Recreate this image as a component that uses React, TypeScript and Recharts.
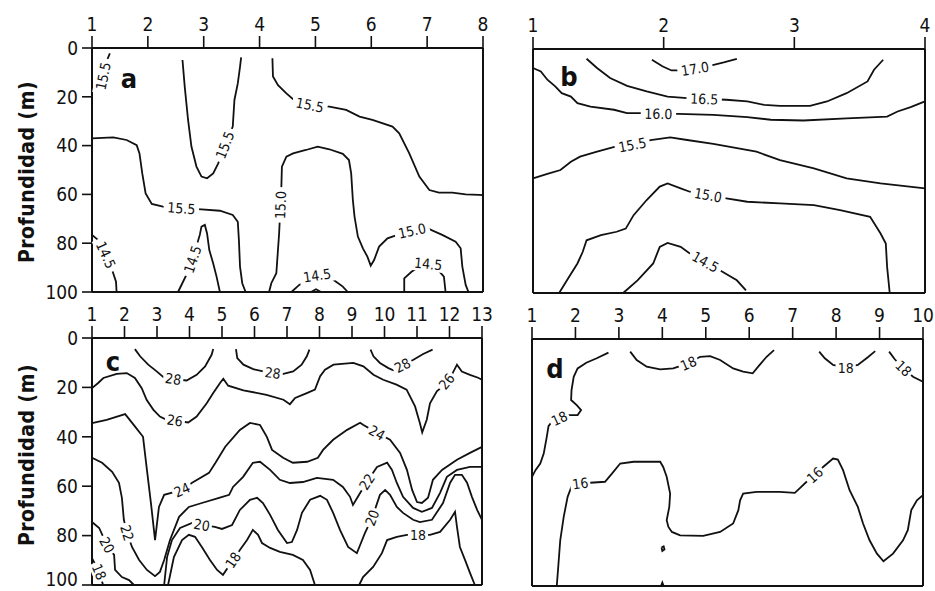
import React from "react";
import { ComposedChart, Line, Scatter, XAxis, YAxis, ReferenceLine } from "recharts";

type Pt = { x: number; y: number; label?: string };

const FONT = "'DejaVu Sans Condensed', 'DejaVu Sans', sans-serif";
const depthTicks = [0, 20, 40, 60, 80, 100];
const PAGE_H = 591;

// ---- panel a
const aStations = [1, 2, 3, 4, 5, 6, 7, 8];
const a155NW: Pt[] = [
  { x: 1.32, y: 2.2 }, { x: 1.26, y: 5.5 }, { x: 1.2, y: 11.5, label: "15.5" }, { x: 1.15, y: 17.5 }
];
const a155Tongue: Pt[] = [
  { x: 2.62, y: 4.9 }, { x: 2.66, y: 15.8 }, { x: 2.72, y: 29.5 }, { x: 2.78, y: 40.4 }, { x: 2.87, y: 48.6 },
  { x: 2.96, y: 52.7 }, { x: 3.06, y: 53.4 }, { x: 3.17, y: 51.4 }, { x: 3.26, y: 47.3 },
  { x: 3.38, y: 39.8, label: "15.5" }, { x: 3.52, y: 32.2 }, { x: 3.55, y: 21.3 }, { x: 3.61, y: 14.5 },
  { x: 3.65, y: 7.7 }, { x: 3.67, y: 3.8 }
];
const a155East: Pt[] = [
  { x: 4.23, y: 4.2 }, { x: 4.24, y: 11.7 }, { x: 4.33, y: 15.2 }, { x: 4.48, y: 18.6 }, { x: 4.6, y: 21.0 },
  { x: 4.9, y: 23.4, label: "15.5" }, { x: 5.25, y: 24.0 }, { x: 5.55, y: 25.4 }, { x: 5.79, y: 28.1 },
  { x: 6.02, y: 29.5 }, { x: 6.38, y: 32.2 }, { x: 6.5, y: 35.0 }, { x: 6.68, y: 43.2 }, { x: 6.86, y: 52.7 },
  { x: 7.04, y: 58.2 }, { x: 7.21, y: 59.3 }, { x: 7.45, y: 59.3 }, { x: 7.69, y: 60.0 }, { x: 7.93, y: 60.2 },
  { x: 8, y: 60.3 }
];
const a155West: Pt[] = [
  { x: 1, y: 37.0 }, { x: 1.38, y: 36.6 }, { x: 1.62, y: 37.7 }, { x: 1.8, y: 39.8 }, { x: 1.85, y: 43.2 },
  { x: 1.9, y: 51.4 }, { x: 1.96, y: 59.6 }, { x: 2.07, y: 63.9 }, { x: 2.27, y: 65.0 },
  { x: 2.6, y: 65.7, label: "15.5" }, { x: 2.96, y: 66.1 }, { x: 3.29, y: 66.7 }, { x: 3.52, y: 68.4 },
  { x: 3.61, y: 71.2 }, { x: 3.63, y: 78.7 }, { x: 3.65, y: 89.6 }, { x: 3.69, y: 96.4 }, { x: 3.75, y: 100 }
];
const a150: Pt[] = [
  { x: 4.17, y: 100 }, { x: 4.21, y: 96.4 }, { x: 4.3, y: 92.3 }, { x: 4.35, y: 76.0 },
  { x: 4.375, y: 64.3, label: "15.0" }, { x: 4.39, y: 56.8 }, { x: 4.4, y: 48.6 }, { x: 4.48, y: 44.5 },
  { x: 4.6, y: 43.2 }, { x: 4.83, y: 41.8 }, { x: 5.04, y: 40.4 }, { x: 5.25, y: 41.5 }, { x: 5.49, y: 43.4 },
  { x: 5.6, y: 45.9 }, { x: 5.64, y: 51.4 }, { x: 5.67, y: 62.3 }, { x: 5.7, y: 69.1 }, { x: 5.76, y: 77.3 },
  { x: 5.85, y: 82.1 }, { x: 5.93, y: 85.5 }, { x: 5.99, y: 89.2 }, { x: 6.05, y: 86.9 }, { x: 6.14, y: 81.4 },
  { x: 6.29, y: 78.0 }, { x: 6.47, y: 76.6 }, { x: 6.73, y: 74.9, label: "15.0" }, { x: 7.01, y: 73.9 },
  { x: 7.27, y: 76.6 }, { x: 7.51, y: 79.4 }, { x: 7.6, y: 82.1 }, { x: 7.63, y: 89.6 }, { x: 7.69, y: 97.1 },
  { x: 7.74, y: 100 }
];
const a145West: Pt[] = [
  { x: 1, y: 76.6 }, { x: 1.11, y: 78.7 }, { x: 1.25, y: 84.8, label: "14.5" }, { x: 1.38, y: 92.3 },
  { x: 1.43, y: 95.8 }, { x: 1.44, y: 100 }
];
const a145Mid: Pt[] = [
  { x: 2.54, y: 100 }, { x: 2.63, y: 95.8 }, { x: 2.69, y: 93.0 }, { x: 2.8, y: 86.6, label: "14.5" },
  { x: 2.93, y: 76.6 }, { x: 2.96, y: 73.2 }, { x: 3.02, y: 72.5 }, { x: 3.06, y: 76.0 }, { x: 3.1, y: 82.8 },
  { x: 3.17, y: 88.3 }, { x: 3.23, y: 93.7 }, { x: 3.29, y: 100 }
];
const a145Centre: Pt[] = [
  { x: 4.57, y: 100 }, { x: 4.71, y: 97.1 }, { x: 4.92, y: 94.4 }, { x: 5.03, y: 93.2, label: "14.5" },
  { x: 5.22, y: 93.4 }, { x: 5.37, y: 95.8 }, { x: 5.49, y: 97.8 }, { x: 5.58, y: 100 }
];
const a145East: Pt[] = [
  { x: 6.59, y: 100 }, { x: 6.59, y: 94.4 }, { x: 6.72, y: 91.7 }, { x: 6.86, y: 89.6 },
  { x: 7.02, y: 88.5, label: "14.5" }, { x: 7.17, y: 90.3 }, { x: 7.3, y: 93.7 }, { x: 7.33, y: 100 }
];
const a145Blob: Pt[] = [{ x: 4.92, y: 100 }, { x: 5.01, y: 98.9 }, { x: 5.1, y: 100 }];

// ---- panel b
const bStations = [1, 2, 3, 4];
const b170: Pt[] = [
  { x: 1.91, y: 4.4 }, { x: 1.99, y: 7.1 }, { x: 2.06, y: 8.8 }, { x: 2.13, y: 8.8 },
  { x: 2.24, y: 8.1, label: "17.0" }, { x: 2.36, y: 6.8 }, { x: 2.46, y: 5.5 }, { x: 2.56, y: 4.0 }
];
const b165: Pt[] = [
  { x: 1.41, y: 4.0 }, { x: 1.49, y: 7.8 }, { x: 1.59, y: 11.9 }, { x: 1.72, y: 15.1 }, { x: 1.87, y: 17.4 },
  { x: 2.03, y: 19.5 }, { x: 2.18, y: 20.1 }, { x: 2.31, y: 20.5, label: "16.5" }, { x: 2.48, y: 20.8 },
  { x: 2.64, y: 21.5 }, { x: 2.77, y: 22.9 }, { x: 2.89, y: 23.3 }, { x: 3.12, y: 23.3 }, { x: 3.25, y: 21.5 },
  { x: 3.4, y: 18.1 }, { x: 3.56, y: 13.3 }, { x: 3.61, y: 8.5 }, { x: 3.68, y: 4.4 }
];
const b160: Pt[] = [
  { x: 1, y: 7.8 }, { x: 1.06, y: 9.2 }, { x: 1.11, y: 12.6 }, { x: 1.17, y: 15.3 }, { x: 1.22, y: 18.1 },
  { x: 1.29, y: 19.5 }, { x: 1.34, y: 22.2 }, { x: 1.44, y: 23.6 }, { x: 1.62, y: 24.9 }, { x: 1.72, y: 26.3 },
  { x: 1.83, y: 26.3 }, { x: 1.96, y: 26.6, label: "16.0" }, { x: 2.11, y: 26.6 }, { x: 2.38, y: 27.0 },
  { x: 2.64, y: 27.9 }, { x: 2.82, y: 29.0 }, { x: 3.07, y: 29.3 }, { x: 3.4, y: 28.4 }, { x: 3.71, y: 27.7 },
  { x: 3.79, y: 25.6 }, { x: 3.89, y: 23.8 }, { x: 4, y: 21.5 }
];
const b155: Pt[] = [
  { x: 1, y: 53.0 }, { x: 1.11, y: 51.2 }, { x: 1.21, y: 49.6 }, { x: 1.29, y: 46.2 }, { x: 1.36, y: 44.1 },
  { x: 1.49, y: 42.1 }, { x: 1.63, y: 40.0 }, { x: 1.76, y: 39.3, label: "15.5" }, { x: 1.9, y: 37.3 },
  { x: 2.05, y: 36.2 }, { x: 2.18, y: 37.3 }, { x: 2.38, y: 38.9 }, { x: 2.71, y: 42.1 }, { x: 2.89, y: 45.5 },
  { x: 3.15, y: 48.9 }, { x: 3.4, y: 53.0 }, { x: 3.66, y: 55.1 }, { x: 4, y: 57.1 }
];
const b150: Pt[] = [
  { x: 1.2, y: 100 }, { x: 1.26, y: 94.8 }, { x: 1.34, y: 87.9 }, { x: 1.38, y: 83.2 }, { x: 1.41, y: 78.4 },
  { x: 1.52, y: 76.3 }, { x: 1.64, y: 74.9 }, { x: 1.71, y: 73.6 }, { x: 1.77, y: 68.1 }, { x: 1.87, y: 61.9 },
  { x: 1.97, y: 56.4 }, { x: 2.03, y: 55.1 }, { x: 2.13, y: 57.1 }, { x: 2.2, y: 58.5 },
  { x: 2.34, y: 59.9, label: "15.0" }, { x: 2.48, y: 61.2 }, { x: 2.64, y: 62.6 }, { x: 2.89, y: 63.3 },
  { x: 3.15, y: 64.0 }, { x: 3.35, y: 66.0 }, { x: 3.58, y: 68.8 }, { x: 3.66, y: 75.6 }, { x: 3.7, y: 79.7 },
  { x: 3.71, y: 89.3 }, { x: 3.73, y: 100 }
];
const b145: Pt[] = [
  { x: 1.69, y: 100 }, { x: 1.8, y: 94.8 }, { x: 1.92, y: 87.9 }, { x: 1.97, y: 81.1 }, { x: 2.03, y: 79.5 },
  { x: 2.13, y: 81.1 }, { x: 2.2, y: 83.8 }, { x: 2.32, y: 87.3, label: "14.5" }, { x: 2.43, y: 90.7 },
  { x: 2.56, y: 94.8 }, { x: 2.63, y: 98.9 }
];

// ---- panel c
const cStations = [1, 2, 3, 4, 5, 6, 7, 8, 9, 10, 11, 12, 13];
const c28West: Pt[] = [
  { x: 2.32, y: 4.5 }, { x: 2.48, y: 7.4 }, { x: 2.73, y: 10.8 }, { x: 2.99, y: 13.5 }, { x: 3.19, y: 15.8 },
  { x: 3.5, y: 16.6, label: "28" }, { x: 3.91, y: 17.2 }, { x: 4.22, y: 14.9 }, { x: 4.48, y: 11.5 },
  { x: 4.68, y: 6.8 }, { x: 4.73, y: 4.5 }
];
const c28Mid: Pt[] = [
  { x: 5.43, y: 4.5 }, { x: 5.47, y: 8.1 }, { x: 5.66, y: 10.8 }, { x: 5.96, y: 12.6 }, { x: 6.27, y: 13.5 },
  { x: 6.56, y: 14.2, label: "28" }, { x: 6.89, y: 14.5 }, { x: 7.19, y: 13.5 }, { x: 7.45, y: 10.8 },
  { x: 7.61, y: 7.4 }, { x: 7.69, y: 4.7 }
];
const c28East: Pt[] = [
  { x: 9.57, y: 4.7 }, { x: 9.66, y: 7.4 }, { x: 9.86, y: 10.1 }, { x: 10.12, y: 12.2 }, { x: 10.27, y: 13.1 },
  { x: 10.55, y: 11.1, label: "28" }, { x: 10.89, y: 8.8 }, { x: 11.19, y: 6.5 }, { x: 11.48, y: 4.7 }
];
const c26: Pt[] = [
  { x: 1, y: 20.3 }, { x: 1.19, y: 18.2 }, { x: 1.35, y: 16.2 }, { x: 1.76, y: 14.5 }, { x: 2.07, y: 14.2 },
  { x: 2.32, y: 16.2 }, { x: 2.53, y: 20.3 }, { x: 2.68, y: 25.0 }, { x: 2.89, y: 29.1 }, { x: 3.09, y: 31.8 },
  { x: 3.25, y: 32.8 }, { x: 3.55, y: 33.4, label: "26" }, { x: 3.96, y: 34.2 }, { x: 4.22, y: 31.8 },
  { x: 4.53, y: 26.4 }, { x: 4.73, y: 22.3 }, { x: 4.94, y: 18.2 }, { x: 5.04, y: 16.5 }, { x: 5.19, y: 19.3 },
  { x: 5.66, y: 21.2 }, { x: 6.37, y: 23.0 }, { x: 6.89, y: 25.0 }, { x: 7.09, y: 26.8 }, { x: 7.25, y: 24.3 },
  { x: 7.61, y: 22.3 }, { x: 7.86, y: 20.9 }, { x: 8.02, y: 15.5 }, { x: 8.17, y: 12.8 }, { x: 8.43, y: 10.8 },
  { x: 9.04, y: 10.1 }, { x: 9.35, y: 11.5 }, { x: 9.66, y: 14.9 }, { x: 9.96, y: 16.9 }, { x: 10.37, y: 18.9 },
  { x: 10.68, y: 20.9 }, { x: 10.94, y: 27.7 }, { x: 11.09, y: 34.5 }, { x: 11.16, y: 38.2 }, { x: 11.3, y: 33.1 },
  { x: 11.4, y: 26.4 }, { x: 11.61, y: 21.6 }, { x: 11.76, y: 19.9 }, { x: 11.91, y: 17.6, label: "26" },
  { x: 12.07, y: 14.9 }, { x: 12.23, y: 10.8 }, { x: 12.38, y: 13.6 }, { x: 12.63, y: 14.9 },
  { x: 12.88, y: 16.1 }, { x: 13, y: 16.9 }
];
const c24: Pt[] = [
  { x: 1, y: 34.5 }, { x: 1.45, y: 33.1 }, { x: 2.02, y: 30.8 }, { x: 2.32, y: 35.8 }, { x: 2.57, y: 40.0 },
  { x: 2.69, y: 53.4 }, { x: 2.82, y: 67.6 }, { x: 2.94, y: 81.8 }, { x: 3.06, y: 68.4 }, { x: 3.22, y: 63.5 },
  { x: 3.77, y: 61.5, label: "24" }, { x: 4.08, y: 58.6 }, { x: 4.6, y: 54.6 }, { x: 4.8, y: 50.5 },
  { x: 5.1, y: 44.0 }, { x: 5.55, y: 37.2 }, { x: 5.86, y: 34.4 }, { x: 6.17, y: 35.2 }, { x: 6.38, y: 40.0 },
  { x: 6.54, y: 45.3 }, { x: 6.88, y: 48.5 }, { x: 7.18, y: 50.5 }, { x: 7.62, y: 50.1 }, { x: 7.95, y: 48.5 },
  { x: 8.11, y: 45.3 }, { x: 8.42, y: 41.2 }, { x: 8.85, y: 37.2 }, { x: 9.25, y: 34.3 }, { x: 9.34, y: 35.1 },
  { x: 9.77, y: 38.4, label: "24" }, { x: 10.17, y: 41.2 }, { x: 10.48, y: 46.5 }, { x: 10.69, y: 53.4 },
  { x: 10.85, y: 61.5 }, { x: 11.0, y: 66.4 }, { x: 11.15, y: 66.8 }, { x: 11.34, y: 64.7 }, { x: 11.49, y: 57.4 },
  { x: 11.77, y: 53.4 }, { x: 12.23, y: 49.3 }, { x: 12.63, y: 46.5 }, { x: 13, y: 44.1 }
];
const c22: Pt[] = [
  { x: 1, y: 48.5 }, { x: 1.31, y: 50.5 }, { x: 1.62, y: 54.2 }, { x: 1.83, y: 58.6 }, { x: 1.92, y: 64.7 },
  { x: 1.98, y: 73.6 }, { x: 2.08, y: 78.9, label: "22" }, { x: 2.23, y: 84.6 }, { x: 2.45, y: 89.9 },
  { x: 2.69, y: 93.9 }, { x: 2.94, y: 96.4 }, { x: 3.09, y: 94.7 }, { x: 3.22, y: 89.9 }, { x: 3.4, y: 81.8 },
  { x: 3.68, y: 72.4 }, { x: 3.98, y: 68.4 }, { x: 4.38, y: 66.8 }, { x: 4.91, y: 64.7 }, { x: 5.22, y: 63.5 },
  { x: 5.34, y: 60.3 }, { x: 5.65, y: 56.2 }, { x: 5.95, y: 50.5 }, { x: 6.17, y: 50.1 }, { x: 6.48, y: 53.4 },
  { x: 6.78, y: 57.4 }, { x: 7.09, y: 58.7 }, { x: 7.49, y: 58.3 }, { x: 7.92, y: 56.6 }, { x: 8.42, y: 57.4 },
  { x: 8.72, y: 60.3 }, { x: 8.94, y: 64.3 }, { x: 9.03, y: 67.6 }, { x: 9.18, y: 64.3 },
  { x: 9.46, y: 58.2, label: "22" }, { x: 9.77, y: 52.2 }, { x: 10.08, y: 50.5 }, { x: 10.23, y: 53.4 },
  { x: 10.38, y: 58.7 }, { x: 10.57, y: 64.3 }, { x: 10.88, y: 68.8 }, { x: 11.15, y: 70.4 }, { x: 11.46, y: 68.8 },
  { x: 11.71, y: 62.7 }, { x: 11.92, y: 56.2 }, { x: 12.23, y: 53.4 }, { x: 12.63, y: 52.2 }, { x: 13, y: 52.2 }
];
const c20West: Pt[] = [
  { x: 1, y: 74.5 }, { x: 1.22, y: 76.9 }, { x: 1.46, y: 83.8, label: "20" }, { x: 1.68, y: 87.8 },
  { x: 1.71, y: 93.9 }, { x: 1.92, y: 96.8 }, { x: 2.14, y: 98.0 }, { x: 2.29, y: 100 }
];
const c20: Pt[] = [
  { x: 3.22, y: 100 }, { x: 3.31, y: 88.7 }, { x: 3.46, y: 81.8 }, { x: 3.71, y: 76.9 }, { x: 4.08, y: 74.9 },
  { x: 4.38, y: 75.7, label: "20" }, { x: 4.78, y: 76.5 }, { x: 5.0, y: 77.3 }, { x: 5.31, y: 75.7 },
  { x: 5.55, y: 69.6 }, { x: 5.86, y: 65.5 }, { x: 6.08, y: 64.7 }, { x: 6.26, y: 66.8 }, { x: 6.48, y: 71.6 },
  { x: 6.72, y: 77.7 }, { x: 7.0, y: 83.0 }, { x: 7.15, y: 82.6 }, { x: 7.31, y: 77.7 }, { x: 7.46, y: 70.8 },
  { x: 7.71, y: 65.5 }, { x: 8.02, y: 63.9 }, { x: 8.23, y: 65.5 }, { x: 8.42, y: 70.8 }, { x: 8.63, y: 77.7 },
  { x: 8.88, y: 84.6 }, { x: 9.15, y: 87.1 }, { x: 9.25, y: 83.8 }, { x: 9.4, y: 78.9 },
  { x: 9.62, y: 72.8, label: "20" }, { x: 9.86, y: 63.5 }, { x: 10.02, y: 61.5 }, { x: 10.17, y: 63.5 },
  { x: 10.38, y: 68.4 }, { x: 10.57, y: 70.8 }, { x: 10.88, y: 73.6 }, { x: 11.09, y: 74.5 }, { x: 11.46, y: 73.6 },
  { x: 11.8, y: 66.8 }, { x: 12.02, y: 58.6 }, { x: 12.17, y: 55.4 }, { x: 12.38, y: 55.4 }, { x: 12.54, y: 58.6 },
  { x: 12.69, y: 64.3 }, { x: 12.85, y: 69.6 }, { x: 13, y: 73.6 }
];
const c18West: Pt[] = [{ x: 1, y: 89.1 }, { x: 1.22, y: 94.7, label: "18" }, { x: 1.34, y: 100 }];
const c18: Pt[] = [
  { x: 3.34, y: 100 }, { x: 3.52, y: 88.7 }, { x: 3.77, y: 81.8 }, { x: 3.98, y: 79.7 }, { x: 4.17, y: 80.5 },
  { x: 4.38, y: 84.6 }, { x: 4.63, y: 89.9 }, { x: 4.85, y: 93.9 }, { x: 5.03, y: 95.9 },
  { x: 5.34, y: 89.9, label: "18" }, { x: 5.55, y: 85.8 }, { x: 5.77, y: 81.8 }, { x: 5.95, y: 77.7 },
  { x: 6.11, y: 79.7 }, { x: 6.23, y: 83.0 }, { x: 6.48, y: 85.0 }, { x: 6.78, y: 86.6 }, { x: 7.18, y: 87.8 },
  { x: 7.49, y: 89.9 }, { x: 7.71, y: 93.9 }, { x: 7.86, y: 100 }
];
const c18East: Pt[] = [
  { x: 9.22, y: 100 }, { x: 9.34, y: 96.8 }, { x: 9.65, y: 92.7 }, { x: 9.92, y: 87.1 }, { x: 10.08, y: 81.8 },
  { x: 10.38, y: 80.5 }, { x: 10.69, y: 79.7 }, { x: 11.03, y: 79.7, label: "18" }, { x: 11.4, y: 79.7 },
  { x: 11.71, y: 78.5 }, { x: 12.02, y: 73.6 }, { x: 12.17, y: 70.4 }, { x: 12.23, y: 76.5 }, { x: 12.32, y: 84.6 },
  { x: 12.48, y: 89.9 }, { x: 12.63, y: 95.1 }, { x: 12.78, y: 100 }
];

// ---- panel d
const dStations = [1, 2, 3, 4, 5, 6, 7, 8, 9, 10];
const d18West: Pt[] = [
  { x: 1, y: 55.8 }, { x: 1.08, y: 53.1 }, { x: 1.19, y: 50.4 }, { x: 1.27, y: 46.4 }, { x: 1.34, y: 39.6 },
  { x: 1.38, y: 35.3 }, { x: 1.44, y: 33.9 }, { x: 1.63, y: 32.2, label: "18" }, { x: 1.82, y: 30.8 },
  { x: 2.05, y: 30.8 }, { x: 2.13, y: 28.8 }, { x: 2.03, y: 26.8 }, { x: 1.9, y: 24.7 }, { x: 1.91, y: 20.7 },
  { x: 1.96, y: 15.3 }, { x: 2.05, y: 11.9 }, { x: 2.25, y: 9.6 }, { x: 2.49, y: 7.8 }, { x: 2.76, y: 5.5 }
];
const d18Mid: Pt[] = [
  { x: 3.26, y: 5.1 }, { x: 3.41, y: 8.5 }, { x: 3.64, y: 11.2 }, { x: 3.95, y: 12.3 }, { x: 4.25, y: 11.9 },
  { x: 4.6, y: 9.9, label: "18" }, { x: 4.87, y: 7.2 }, { x: 5.1, y: 6.9 }, { x: 5.33, y: 8.5 }, { x: 5.63, y: 11.9 },
  { x: 5.86, y: 13.2 }, { x: 6.08, y: 13.9 }, { x: 6.24, y: 10.5 }, { x: 6.4, y: 7.2 }, { x: 6.57, y: 4.5 }
];
const d18East: Pt[] = [
  { x: 7.61, y: 5.1 }, { x: 7.74, y: 7.8 }, { x: 7.93, y: 10.5 }, { x: 8.22, y: 11.6, label: "18" },
  { x: 8.5, y: 10.5 }, { x: 8.73, y: 7.4 }, { x: 8.9, y: 4.9 }
];
const d18Edge: Pt[] = [
  { x: 9.22, y: 5.1 }, { x: 9.35, y: 8.2 }, { x: 9.55, y: 11.9, label: "18" }, { x: 9.77, y: 15.3 }, { x: 10, y: 17.3 }
];
const d16: Pt[] = [
  { x: 1.57, y: 100 }, { x: 1.61, y: 90.9 }, { x: 1.65, y: 81.5 }, { x: 1.73, y: 72.0 }, { x: 1.82, y: 63.9 },
  { x: 1.92, y: 59.2 }, { x: 2.11, y: 58.5, label: "16" }, { x: 2.34, y: 58.2 }, { x: 2.68, y: 57.8 },
  { x: 2.84, y: 54.5 }, { x: 3.03, y: 50.4 }, { x: 3.34, y: 49.7 }, { x: 3.64, y: 49.7 }, { x: 3.95, y: 49.7 },
  { x: 4.02, y: 51.8 }, { x: 4.1, y: 55.8 }, { x: 4.18, y: 62.6 }, { x: 4.16, y: 68.0 }, { x: 4.1, y: 73.4 },
  { x: 4.14, y: 76.1 }, { x: 4.22, y: 78.1 }, { x: 4.41, y: 79.5 }, { x: 4.94, y: 79.7 }, { x: 5.33, y: 78.1 },
  { x: 5.63, y: 74.7 }, { x: 5.75, y: 69.3 }, { x: 5.79, y: 65.3 }, { x: 5.86, y: 62.6 }, { x: 6.17, y: 61.9 },
  { x: 6.7, y: 61.9 }, { x: 7.05, y: 62.3 }, { x: 7.16, y: 60.5 }, { x: 7.32, y: 57.8 },
  { x: 7.51, y: 55.1, label: "16" }, { x: 7.7, y: 51.8 }, { x: 7.93, y: 48.4 }, { x: 8.04, y: 48.8 },
  { x: 8.16, y: 53.1 }, { x: 8.31, y: 61.2 }, { x: 8.5, y: 68.0 }, { x: 8.62, y: 74.7 }, { x: 8.77, y: 81.5 },
  { x: 8.94, y: 86.9 }, { x: 9.09, y: 90.0 }, { x: 9.31, y: 86.9 }, { x: 9.54, y: 81.5 }, { x: 9.65, y: 77.4 },
  { x: 9.73, y: 69.3 }, { x: 9.86, y: 65.3 }, { x: 10, y: 63.2 }
];
const d16Speck: Pt[] = [
  { x: 3.98, y: 84.4 }, { x: 4.03, y: 83.9 }, { x: 4.05, y: 85.2 }, { x: 4.0, y: 85.8 }, { x: 3.98, y: 84.4 }
];
const d16Tip: Pt[] = [{ x: 3.97, y: 100 }, { x: 4.0, y: 98.6 }, { x: 4.03, y: 100 }];

type Panel = {
  letter: string;
  left: number;
  top: number;
  axisW: number;
  plotW: number;
  plotH: number;
  stations: number[];
  depthLabels: boolean;
  contours: Pt[][];
  letterAt: [number, number];
  yTitleAt?: number;
};

const TOP = 40;
const RIGHT = 16;
const BOTTOM = 14;

const panels: Panel[] = [
  {
    letter: "a", left: 0, top: 8, axisW: 92, plotW: 391, plotH: 244, stations: aStations, depthLabels: true,
    contours: [a155NW, a155Tongue, a155East, a155West, a150, a145West, a145Mid, a145Centre, a145East, a145Blob],
    letterAt: [129, 70], yTitleAt: 164
  },
  {
    letter: "b", left: 513, top: 9, axisW: 20, plotW: 392, plotH: 244, stations: bStations, depthLabels: false,
    contours: [b170, b165, b160, b155, b150, b145], letterAt: [56, 67]
  },
  {
    letter: "c", left: 0, top: 298, axisW: 92, plotW: 390, plotH: 247, stations: cStations, depthLabels: true,
    contours: [c28West, c28Mid, c28East, c26, c24, c22, c20West, c20, c18West, c18, c18East],
    letterAt: [113, 63], yTitleAt: 157
  },
  {
    letter: "d", left: 512, top: 299, axisW: 20, plotW: 391, plotH: 247, stations: dStations, depthLabels: false,
    contours: [d18West, d18Mid, d18East, d18Edge, d16, d16Speck, d16Tip], letterAt: [43, 69]
  }
];

type LabelPt = { x: number; y: number; text: string; angle: number };

// label angle follows the contour through the neighbouring points
function labelsFor(p: Panel): LabelPt[] {
  const sx = p.plotW / (p.stations[p.stations.length - 1] - 1);
  const sy = p.plotH / 100;
  const out: LabelPt[] = [];
  p.contours.forEach((c) =>
    c.forEach((pt, i) => {
      if (!pt.label) return;
      const a = c[Math.max(0, i - 1)];
      const b = c[Math.min(c.length - 1, i + 1)];
      let ang = (Math.atan2((b.y - a.y) * sy, (b.x - a.x) * sx) * 180) / Math.PI;
      while (ang >= 90) ang -= 180;
      while (ang < -90) ang += 180;
      out.push({ x: pt.x, y: pt.y, text: pt.label, angle: ang });
    })
  );
  return out;
}

function ContourLabel(props: any) {
  const { cx, cy, payload } = props;
  if (cx == null || cy == null || !payload) return null;
  const w = payload.text.length * 7.6 + 5;
  return (
    <g transform={`translate(${cx},${cy}) rotate(${payload.angle})`}>
      <rect x={-w / 2} y={-7.5} width={w} height={15} fill="#fff" />
      <text x={0} y={0} dy="0.36em" textAnchor="middle" fontSize={14} fontFamily={FONT} fill="#111">
        {payload.text}
      </text>
    </g>
  );
}

// depth tick text, kept inside the page when the panel sits on its bottom edge
function DepthTick(props: any) {
  const { x, y, payload, maxY } = props;
  return (
    <text x={x} y={Math.min(y, maxY)} dy="0.36em" textAnchor="end" fontSize={19} fontFamily={FONT} fill="#111">
      {payload.value}
    </text>
  );
}

const axisStroke = { stroke: "#111", strokeWidth: 2 };
const tickStroke = { stroke: "#111", strokeWidth: 1.6 };
const tickText = { fill: "#111", fontSize: 19, fontFamily: FONT };

function Section({ p }: { p: Panel }) {
  const xMax = p.stations[p.stations.length - 1];
  const labels = labelsFor(p);
  const maxY = PAGE_H - p.top - 12;
  return (
    <div style={{ position: "absolute", left: p.left, top: p.top }}>
      <ComposedChart
        width={p.axisW + p.plotW + RIGHT}
        height={TOP + p.plotH + BOTTOM}
        margin={{ top: 0, right: RIGHT, bottom: BOTTOM, left: 0 }}
      >
        <XAxis
          type="number"
          dataKey="x"
          orientation="top"
          domain={[1, xMax]}
          ticks={p.stations}
          interval={0}
          height={TOP}
          tickSize={12}
          tickMargin={5}
          axisLine={axisStroke}
          tickLine={tickStroke}
          tick={tickText}
        />
        <YAxis
          type="number"
          dataKey="y"
          reversed
          domain={[0, 100]}
          ticks={depthTicks}
          interval={0}
          width={p.axisW}
          tickSize={p.depthLabels ? 10 : 12}
          tickMargin={4}
          axisLine={axisStroke}
          tickLine={tickStroke}
          tick={p.depthLabels ? (t: any) => <DepthTick {...t} maxY={maxY} /> : false}
        />
        <ReferenceLine x={xMax} stroke="#111" strokeWidth={2} />
        <ReferenceLine y={100} stroke="#111" strokeWidth={2} />
        {p.contours.map((c, i) => (
          <Line
            key={i}
            data={c}
            dataKey="y"
            type="linear"
            stroke="#111"
            strokeWidth={1.8}
            dot={false}
            activeDot={false}
            isAnimationActive={false}
          />
        ))}
        <Scatter data={labels} dataKey="y" shape={ContourLabel} isAnimationActive={false} />
      </ComposedChart>
      <div
        style={{
          position: "absolute",
          left: p.letterAt[0],
          top: p.letterAt[1],
          transform: "translate(-50%, -50%)",
          fontFamily: FONT,
          fontWeight: "bold",
          fontSize: 27,
          lineHeight: 1,
          color: "#111"
        }}
      >
        {p.letter}
      </div>
      {p.yTitleAt != null && (
        <div
          style={{
            position: "absolute",
            left: 27,
            top: p.yTitleAt,
            transform: "translate(-50%, -50%) rotate(-90deg)",
            whiteSpace: "nowrap",
            fontFamily: FONT,
            fontWeight: "bold",
            fontSize: 21,
            lineHeight: 1,
            letterSpacing: 0.5,
            color: "#111"
          }}
        >
          Profundidad (m)
        </div>
      )}
    </div>
  );
}

export default function App() {
  return (
    <div
      style={{
        position: "absolute",
        left: 0,
        top: 0,
        width: 935,
        height: 591,
        background: "#fff",
        overflow: "hidden"
      }}
    >
      {panels.map((p) => (
        <Section key={p.letter} p={p} />
      ))}
    </div>
  );
}
